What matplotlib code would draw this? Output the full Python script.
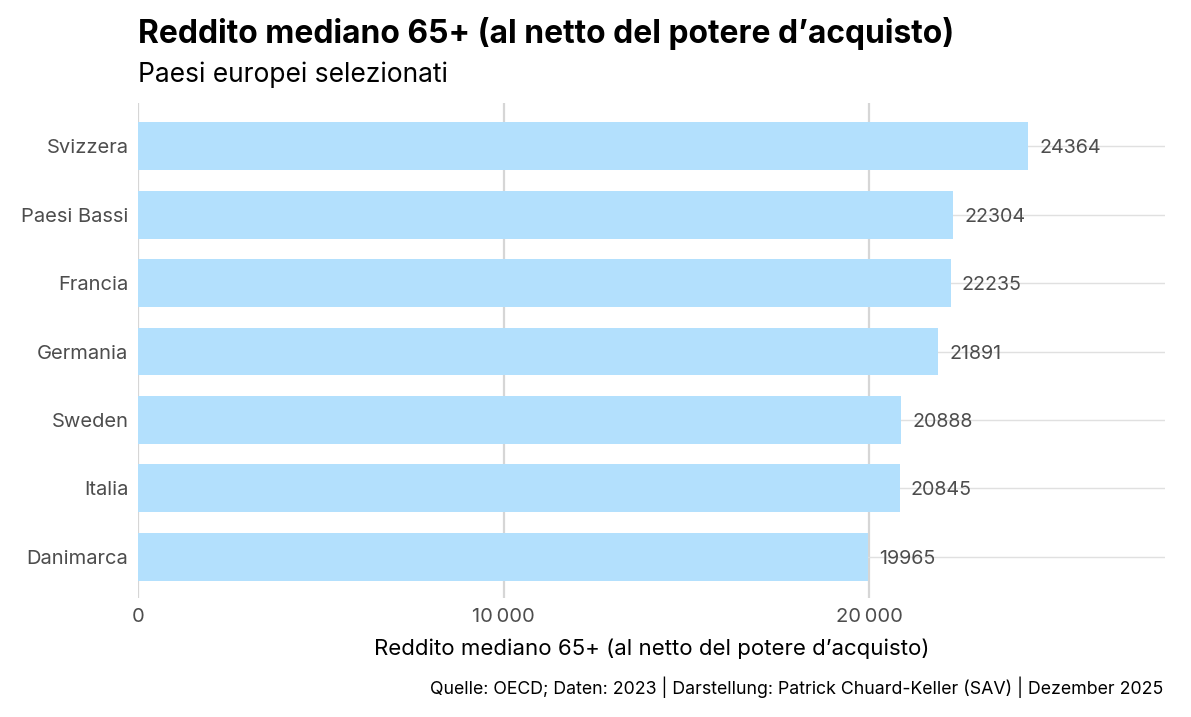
import numpy as np
import matplotlib
matplotlib.use("Agg")
from matplotlib import pyplot as plt
from matplotlib.ticker import FuncFormatter

# data (top to bottom as in the chart)
countries = ["Svizzera", "Paesi Bassi", "Francia", "Germania", "Sweden", "Italia", "Danimarca"]
income = [24364, 22304, 22235, 21891, 20888, 20845, 19965]
xticks = [0, 10000, 20000]

plt.rcParams['font.family'] = ['Inter', 'DejaVu Sans']

fig = plt.figure(figsize=(11.91, 7.17), dpi=100)
ax = fig.add_axes([0.1159, 0.166, 0.9782 - 0.1159, 0.8563 - 0.166])

ypos = np.arange(len(countries))[::-1]
ax.barh(ypos, income, height=0.7, color="#b3e0fd", zorder=2)

for y, v in zip(ypos, income):
    ax.annotate(str(v), (v, y), xytext=(8, 0), textcoords="offset points",
                va="center_baseline", ha="left", fontsize=14.2, color="#4d4d4d", zorder=3)

ax.set_xlim(0, 28100)
ax.set_ylim(-0.6, len(countries) - 0.37)
ax.set_yticks(ypos)
ax.set_yticklabels(countries)
ax.set_xticks(xticks)
ax.xaxis.set_major_formatter(FuncFormatter(lambda v, p: f"{int(v):,}".replace(",", "\u2009")))

ax.grid(axis="x", color="#d6d6d6", linewidth=1.6, zorder=0)
ax.grid(axis="y", color="#e0e0e0", linewidth=1.0, zorder=0)
for s in ax.spines.values():
    s.set_visible(False)
ax.tick_params(length=0, labelsize=14.5, labelcolor="#4d4d4d")
ax.tick_params(axis="y", pad=7)
ax.tick_params(axis="x", pad=7)

ax.set_xlabel("Reddito mediano 65+ (al netto del potere d\u2019acquisto)", fontsize=16, labelpad=9)

fig.text(0.1159, 0.94, "Reddito mediano 65+ (al netto del potere d\u2019acquisto)",
         fontsize=22.9, fontweight="bold", va="baseline", ha="left")
fig.text(0.1159, 0.886, "Paesi europei selezionati", fontsize=19, va="baseline", ha="left")
fig.text(0.9765, 0.032, "Quelle: OECD; Daten: 2023 | Darstellung: Patrick Chuard-Keller (SAV) | Dezember 2025",
         fontsize=12.8, va="baseline", ha="right")

fig.savefig("out.png", dpi=100)
